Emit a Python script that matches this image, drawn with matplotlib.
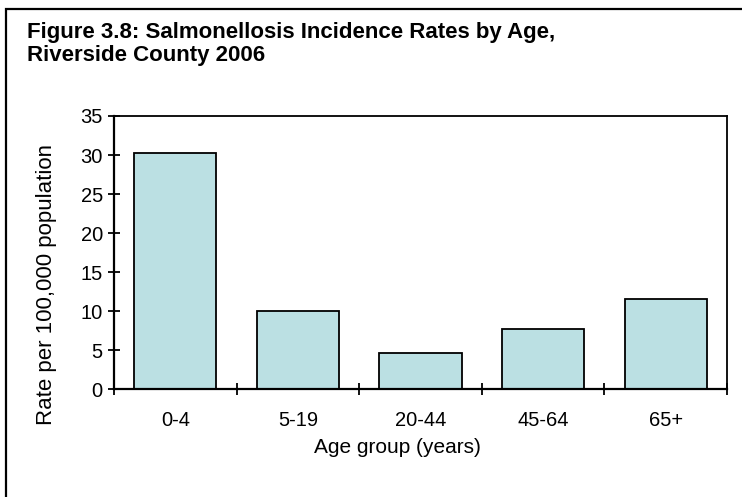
import matplotlib.pyplot as plt
from matplotlib.patches import Rectangle

plt.rcParams["font.family"] = ["Liberation Sans", "DejaVu Sans"]

# data
age_groups = ["0-4", "5-19", "20-44", "45-64", "65+"]
rates = [30.3, 10.0, 4.6, 7.7, 11.5]
y_ticks = [0, 5, 10, 15, 20, 25, 30, 35]

fig = plt.figure(figsize=(7.42, 4.97), dpi=100)

# outer frame (cut off at right and bottom like the original)
fig.patches.append(Rectangle((0.0085, -0.2), 1.2, 1.182, transform=fig.transFigure,
                             fill=False, edgecolor="black", linewidth=1.6))

ax = fig.add_axes([0.1536, 0.2173, 0.8262, 0.5493])

x = list(range(len(rates)))
ax.bar(x, rates, width=0.67, color="#bbe0e3", edgecolor="black", linewidth=1.3, zorder=2)

ax.set_xlim(-0.5, len(rates) - 0.5)
ax.set_ylim(0, 35)
ax.set_yticks(y_ticks)

# boundary ticks between categories, labels in the middle
ax.set_xticks([i - 0.5 for i in range(len(rates) + 1)])
ax.set_xticklabels([])
ax.set_xticks(x, minor=True)
ax.set_xticklabels(age_groups, minor=True)
ax.tick_params(axis="x", which="major", direction="inout", length=8, width=1.3)
ax.tick_params(axis="x", which="minor", length=0, pad=16, labelsize=14.5)
ax.tick_params(axis="y", direction="inout", length=8, width=1.3, pad=4, labelsize=14.5)

for side in ["left", "bottom"]:
    ax.spines[side].set_linewidth(1.6)
for side in ["right", "top"]:
    ax.spines[side].set_linewidth(1.3)

ax.set_xlabel("Age group (years)", fontsize=15)
ax.xaxis.set_label_coords(0.463, -0.18)
ax.set_ylabel("Rate per 100,000 population", fontsize=16)
ax.yaxis.set_label_coords(-0.093, 0.381)

fig.text(0.0364, 0.956, "Figure 3.8: Salmonellosis Incidence Rates by Age,\nRiverside County 2006",
         fontsize=16, fontweight="bold", va="top", ha="left", linespacing=1.15)

fig.savefig("out.png", dpi=100)
